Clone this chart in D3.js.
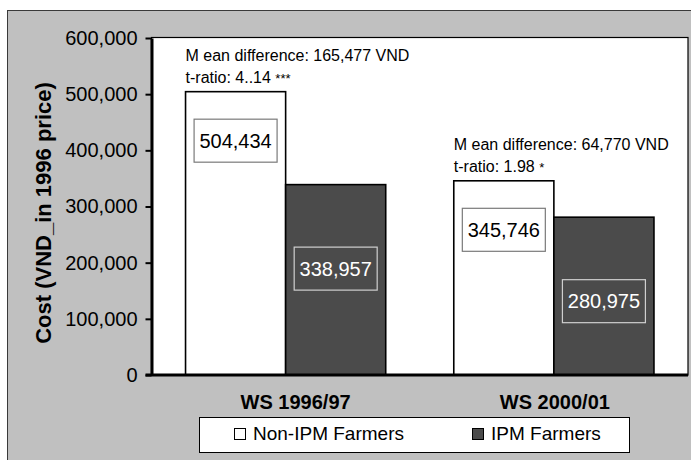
<!DOCTYPE html>
<html>
<head>
<meta charset="utf-8">
<script src="https://cdn.jsdelivr.net/npm/d3@7/dist/d3.min.js"></script>
<style>
  html, body { margin: 0; padding: 0; background: #fff; }
  svg { display: block; font-family: "Liberation Sans", Arial, Helvetica, sans-serif; }
</style>
</head>
<body>
<svg id="chart" width="691" height="460"></svg>
<script>
// Cost per farmer, two wet seasons, non-IPM vs IPM
const categories = ["WS 1996/97", "WS 2000/01"];
const seriesNames = ["Non-IPM Farmers", "IPM Farmers"];
const nonIpmCost = [504434, 345746];
const ipmCost = [338957, 280975];
const meanDiffLines = ["M ean difference: 165,477 VND", "M ean difference: 64,770 VND"];
const tRatioText = ["t-ratio: 4..14", "t-ratio: 1.98"];
const tRatioStars = ["***", "*"];
const yTicks = [0, 100000, 200000, 300000, 400000, 500000, 600000];
const yTitle = "Cost (VND_in 1996 price)";

const seriesValues = [nonIpmCost, ipmCost];
const fills = ["#ffffff", "#4b4b4b"];
const labelFill = ["#ffffff", "#4b4b4b"];
const labelStroke = ["#7a7a7a", "#cfcfcf"];
const labelText = ["#000000", "#ffffff"];

const svg = d3.select("#chart");
const plot = { left: 151.5, right: 688, top: 38, bottom: 375 };

// outer chart frame
svg.append("rect")
  .attr("x", 7.5).attr("y", 10.5).attr("width", 720).attr("height", 480)
  .attr("fill", "#c0c0c0").attr("stroke", "#3a3a3a").attr("stroke-width", 1);

// plot area
svg.append("rect")
  .attr("x", plot.left).attr("y", plot.top - 0.5)
  .attr("width", plot.right - plot.left).attr("height", plot.bottom - plot.top + 0.5)
  .attr("fill", "#ffffff").attr("stroke", "#000").attr("stroke-width", 1.2);

const y = d3.scaleLinear().domain([0, 600000]).range([plot.bottom, plot.top]);
const x0 = d3.scaleBand().domain(categories).range([plot.left, plot.right])
  .paddingInner(0.2537).paddingOuter(0.1269);
const x1 = d3.scaleBand().domain(d3.range(seriesNames.length)).range([0, x0.bandwidth()]);

// bars
const groups = svg.append("g").selectAll("g").data(categories).join("g")
  .attr("transform", d => `translate(${x0(d)},0)`);

groups.each(function (cat, ci) {
  const g = d3.select(this);
  seriesValues.forEach((vals, si) => {
    g.append("rect")
      .attr("x", x1(si)).attr("y", y(vals[ci]))
      .attr("width", x1.bandwidth()).attr("height", y(0) - y(vals[ci]))
      .attr("fill", fills[si]).attr("stroke", "#000").attr("stroke-width", 1.6);
  });
});

// value labels in boxes
const labelDrop = [49, 84];
groups.each(function (cat, ci) {
  const g = d3.select(this);
  seriesValues.forEach((vals, si) => {
    const cx = x1(si) + x1.bandwidth() / 2;
    const cy = y(vals[ci]) + labelDrop[si];
    g.append("rect")
      .attr("x", cx - 41.5).attr("y", cy - 21.5).attr("width", 83).attr("height", 43)
      .attr("fill", labelFill[si]).attr("stroke", labelStroke[si]).attr("stroke-width", 1.2);
    g.append("text")
      .attr("x", cx).attr("y", cy + 7)
      .attr("text-anchor", "middle").attr("font-size", 20)
      .attr("fill", labelText[si])
      .text(d3.format(",")(vals[ci]));
  });
});

// significance annotations above the non-IPM bar
groups.each(function (cat, ci) {
  const g = d3.select(this);
  const top = y(nonIpmCost[ci]);
  g.append("text")
    .attr("x", x1(0)).attr("y", top - 31)
    .attr("font-size", 16).attr("fill", "#000")
    .text(meanDiffLines[ci]);
  const t = g.append("text")
    .attr("x", x1(0)).attr("y", top - 9)
    .attr("font-size", 16).attr("fill", "#000");
  t.append("tspan").text(tRatioText[ci] + " ");
  t.append("tspan").attr("font-size", 13).text(tRatioStars[ci]);
});

// y axis
const yAxis = d3.axisLeft(y).tickValues(yTicks)
  .tickFormat(d => d === 0 ? "0" : d3.format(",")(d))
  .tickSize(6).tickSizeOuter(0).tickPadding(8);
const ya = svg.append("g").attr("transform", `translate(${plot.left},0)`).call(yAxis);
ya.select(".domain").attr("stroke", "#000").attr("stroke-width", 3);
ya.selectAll(".tick line").attr("stroke", "#000").attr("stroke-width", 2);
ya.selectAll(".tick text").attr("font-size", 20).attr("fill", "#000")
  .attr("font-family", "\"Liberation Sans\", Arial, sans-serif");

// baseline
svg.append("line")
  .attr("x1", plot.left - 6).attr("x2", plot.right)
  .attr("y1", y(0)).attr("y2", y(0))
  .attr("stroke", "#000").attr("stroke-width", 3);

// category labels
const catShift = [10, 1];
svg.append("g").selectAll("text").data(categories).join("text")
  .attr("x", (d, i) => x0(d) + x0.bandwidth() / 2 + catShift[i])
  .attr("y", 409)
  .attr("text-anchor", "middle").attr("font-size", 20).attr("font-weight", "bold")
  .attr("fill", "#000")
  .text(d => d);

// y axis title
svg.append("text")
  .attr("transform", "translate(51,213) rotate(-90)")
  .attr("text-anchor", "middle").attr("font-size", 22).attr("font-weight", "bold")
  .attr("fill", "#000")
  .text(yTitle);

// legend
const legend = svg.append("g");
legend.append("rect")
  .attr("x", 199.5).attr("y", 417.5).attr("width", 430).attr("height", 35)
  .attr("fill", "#fff").attr("stroke", "#000").attr("stroke-width", 1);
const legendX = [234, 472];
seriesNames.forEach((name, i) => {
  legend.append("rect")
    .attr("x", legendX[i] + 0.5).attr("y", 428.5).attr("width", 11).attr("height", 11)
    .attr("fill", fills[i]).attr("stroke", "#000").attr("stroke-width", 1);
  legend.append("text")
    .attr("x", legendX[i] + 19).attr("y", 439.5)
    .attr("font-size", 19).attr("fill", "#000")
    .text(name);
});
</script>
</body>
</html>
